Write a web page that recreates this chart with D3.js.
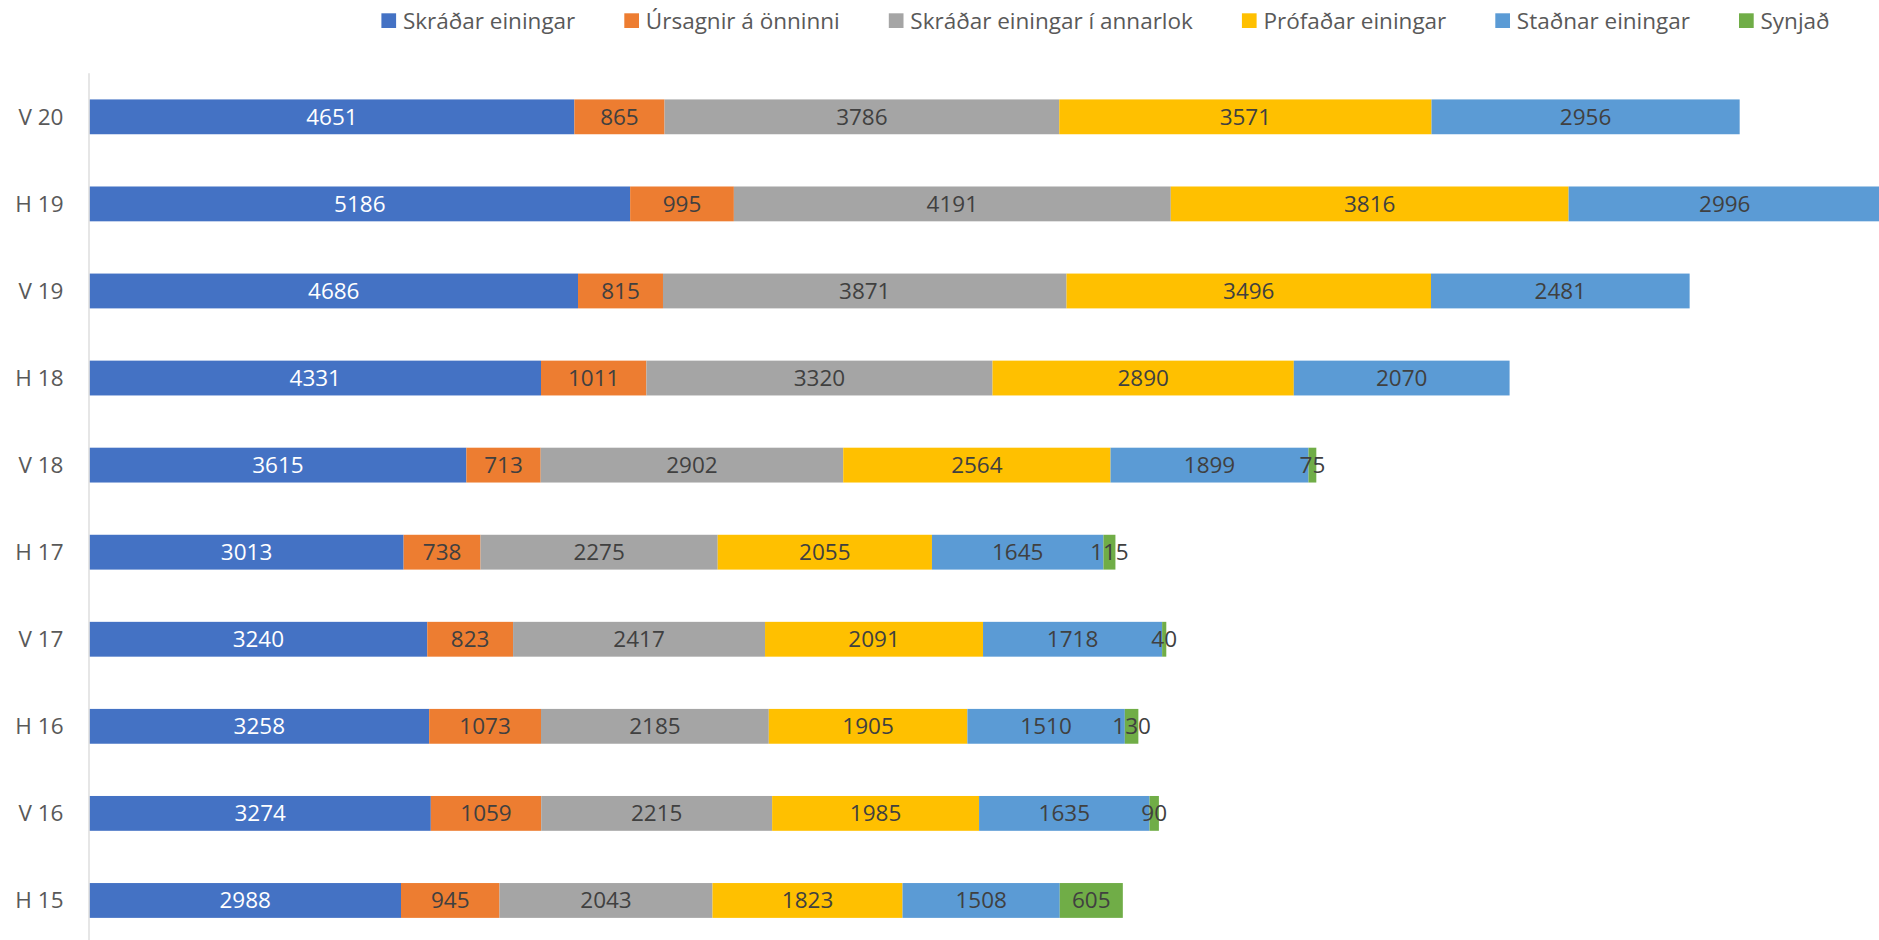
<!DOCTYPE html>
<html>
<head>
<meta charset="utf-8">
<script src="https://cdn.jsdelivr.net/npm/d3@7"></script>
<style>
  html, body { margin: 0; padding: 0; background: #fff; }
  svg { display: block; font-family: "Open Sans", "Noto Sans", sans-serif; }
</style>
</head>
<body>
<svg id="chart" width="1879" height="940"></svg>
<script>
// ---- data ----
const categories = ["V 20", "H 19", "V 19", "H 18", "V 18", "H 17", "V 17", "H 16", "V 16", "H 15"];
const seriesNames = ["Skráðar einingar", "Úrsagnir á önninni", "Skráðar einingar í annarlok", "Prófaðar einingar", "Staðnar einingar", "Synjað"];
const skradar   = [4651, 5186, 4686, 4331, 3615, 3013, 3240, 3258, 3274, 2988];
const ursagnir  = [865, 995, 815, 1011, 713, 738, 823, 1073, 1059, 945];
const annarlok  = [3786, 4191, 3871, 3320, 2902, 2275, 2417, 2185, 2215, 2043];
const profadar  = [3571, 3816, 3496, 2890, 2564, 2055, 2091, 1905, 1985, 1823];
const stadnar   = [2956, 2996, 2481, 2070, 1899, 1645, 1718, 1510, 1635, 1508];
const synjad    = [null, null, null, null, 75, 115, 40, 130, 90, 605];
const seriesValues = [skradar, ursagnir, annarlok, profadar, stadnar, synjad];
const colors = ["#4472C4", "#ED7D31", "#A5A5A5", "#FFC000", "#5B9BD5", "#70AD47"];
const labelColors = ["#FFFFFF", "#404040", "#404040", "#404040", "#404040", "#404040"];

// ---- layout ----
const W = 1879, H = 940;
const svg = d3.select("#chart");
const fontSize = 22.5;
const capOff = 8.0;

const rows = categories.map((c, i) => {
  const r = { cat: c };
  seriesNames.forEach((s, k) => { r[s] = seriesValues[k][i] || 0; });
  return r;
});
const stacked = d3.stack().keys(seriesNames)(rows);

const x = d3.scaleLinear().domain([0, 10000]).range([89.5, 89.5 + 1042.5]);
const y = d3.scaleBand().domain(categories).range([73.3, 944]).paddingInner(0.6).paddingOuter(0.3);

// bars
stacked.forEach((layer, k) => {
  const g = svg.append("g");
  layer.forEach((d, i) => {
    const v = seriesValues[k][i];
    if (v == null) return;
    g.append("rect")
      .attr("x", x(d[0]))
      .attr("y", y(categories[i]))
      .attr("width", x(d[1]) - x(d[0]))
      .attr("height", y.bandwidth())
      .attr("fill", colors[k]);
  });
});
// labels
stacked.forEach((layer, k) => {
  const g = svg.append("g");
  layer.forEach((d, i) => {
    const v = seriesValues[k][i];
    if (v == null) return;
    g.append("text")
      .attr("x", (x(d[0]) + x(d[1])) / 2)
      .attr("y", y(categories[i]) + y.bandwidth() / 2 + capOff)
      .attr("text-anchor", "middle")
      .attr("font-size", fontSize)
      .attr("fill", labelColors[k])
      .text(v);
  });
});

// y axis
const yAxis = d3.axisLeft(y).tickSize(0).tickPadding(25.5);
const ax = svg.append("g").attr("transform", `translate(${x(0) - 0.5},0)`).call(yAxis);
ax.select(".domain").attr("stroke", "#D9D9D9").attr("stroke-width", 1.3).attr("d", `M0,73.3V${H}`);
ax.selectAll(".tick text")
  .attr("font-size", fontSize)
  .attr("font-family", "'Open Sans', 'Noto Sans', sans-serif")
  .attr("fill", "#595959")
  .attr("dy", null)
  .attr("y", capOff);

// legend
const leg = svg.append("g");
let lx = 0;
seriesNames.forEach((s, k) => {
  const item = leg.append("g").attr("transform", `translate(${lx},0)`);
  item.append("rect").attr("x", 0).attr("y", 13.3).attr("width", 14.7).attr("height", 14.7).attr("fill", colors[k]);
  const t = item.append("text").attr("x", 21.5).attr("y", 28.6)
    .attr("font-size", fontSize).attr("fill", "#595959").text(s);
  lx += 21.5 + t.node().getComputedTextLength() + 49;
});
const legW = lx - 49;
leg.attr("transform", `translate(${1105.5 - legW / 2},0)`);
</script>
</body>
</html>
